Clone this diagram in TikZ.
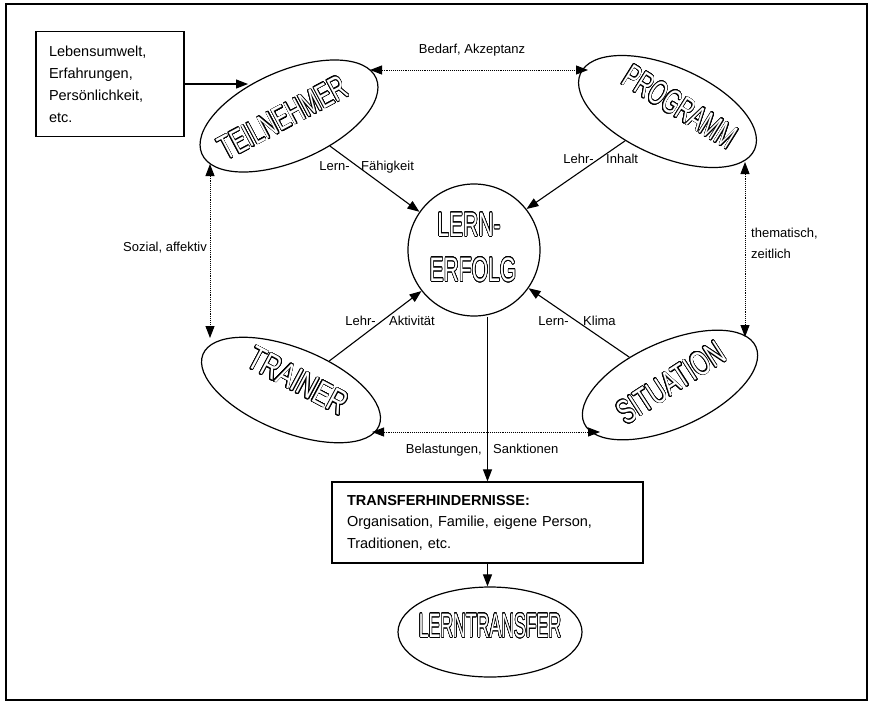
\documentclass[tikz,border=0pt]{standalone}
\usepackage{fontspec}
\setmainfont{Liberation Sans}
\usepackage{graphicx}
\usepackage[copies]{contour}
\contourlength{0.8pt}
\contournumber{24}
\usetikzlibrary{shapes.geometric,arrows.meta}
\newcommand{\outl}[2]{\scalebox{#1}[1]{\textcolor{white}{\contour{black}{#2}}}}
\begin{document}
\begin{tikzpicture}[x=1pt,y=-1pt,
  ell/.style={draw,ellipse,line width=1.2pt,inner sep=0pt},
  otxt/.style={font=\fontsize{34}{40}\selectfont,inner sep=0pt},
  lbl/.style={font=\fontsize{13}{15}\selectfont,inner sep=0pt},
  boxn/.style={draw,line width=1.2pt,inner sep=0pt,align=left},
  arr/.style={line width=1.1pt,-{Triangle[length=12pt,width=9pt]}},
  darr/.style={line width=0.9pt,densely dotted,{Triangle[length=12pt,width=9pt]}-{Triangle[length=12pt,width=9pt]}}
]
\useasboundingbox (0,0) rectangle (869,702);
\draw[line width=1.5pt] (6,4) rectangle (867,700);

% boxes
\node[boxn,minimum width=148pt,minimum height=105pt,text width=122pt,
      font=\fontsize{14.5}{22}\selectfont] (lebens) at (110,84)
  {Lebensumwelt,\\Erfahrungen,\\Persönlichkeit,\\etc.};
\node[boxn,minimum width=311pt,minimum height=81pt,text width=281pt,
      font=\fontsize{14.5}{21.5}\selectfont] (tbox) at (487.5,522.5)
  {\textbf{TRANSFERHINDERNISSE:}\\Organisation, Familie, eigene Person,\\Traditionen, etc.};

% ellipses and circle
\node[ell,minimum width=190pt,minimum height=90pt,rotate=23.5] (teil) at (289,116) {};
\node[ell,minimum width=190pt,minimum height=90pt,rotate=-23.5] (prog) at (667.5,111.5) {};
\node[ell,minimum width=190pt,minimum height=84pt,rotate=-22] (trainer) at (291,390) {};
\node[ell,minimum width=188pt,minimum height=86pt,rotate=24] (sit) at (670,385) {};
\node[ell,minimum width=184pt,minimum height=90pt] (lt) at (490,632) {};
\node[draw,circle,line width=1.2pt,minimum size=132pt,inner sep=0pt] (erfolg) at (474,250) {};

% outlined titles
\node[otxt,rotate=28] (teilT) at (283,118) {\outl{0.64}{TEILNEHMER}};
\node[otxt,rotate=-32] (progT) at (680,107) {\outl{0.62}{PROGRAMM}};
\node[otxt,rotate=-28] (trainerT) at (298,381) {\outl{0.72}{TRAINER}};
\node[otxt,rotate=33] (sitT) at (671,383) {\outl{0.68}{SITUATION}};
\node[otxt] (erfolgT1) at (469,225) {\outl{0.62}{LERN-}};
\node[otxt] (erfolgT2) at (473,270) {\outl{0.62}{ERFOLG}};
\node[otxt] (ltT) at (490,626) {\outl{0.52}{LERNTRANSFER}};

% free ends
\coordinate (tA) at (248,84);
\coordinate (b1) at (370,70);
\coordinate (b2) at (588,70);
\coordinate (s1) at (210,164);
\coordinate (s2) at (210,338);
\coordinate (t1) at (745,162);
\coordinate (t2) at (745,337);
\coordinate (l1) at (372,432);
\coordinate (l2) at (600,432);

% connectors
\draw[arr] (lebens.east) -- (tA);
\draw[darr] (b1) -- (b2);
\draw[darr] (s1) -- (s2);
\draw[darr] (t1) -- (t2);
\draw[darr] (l1) -- (l2);
\draw[arr] (teil) -- (erfolg.145);
\draw[arr] (prog) -- (erfolg.38);
\draw[arr] (trainer) -- (erfolg.218);
\draw[arr] (sit) -- (erfolg.-35);
\draw[arr] (erfolg.south -| tbox.north) -- (tbox.north);
\draw[arr] (tbox.south) -- (tbox.south |- lt.north);

% labels
\node[lbl,anchor=base] (lbBedarf) at (472,53) {Bedarf, Akzeptanz};
\node[lbl,anchor=base east] (lbLern1) at (350,170) {Lern-};
\node[lbl,anchor=base west] (lbFaeh) at (361,170) {Fähigkeit};
\node[lbl,anchor=base east] (lbSozial) at (207,251) {Sozial, affektiv};
\node[lbl,anchor=base east] (lbLehr1) at (594,163) {Lehr-};
\node[lbl,anchor=base west] (lbInhalt) at (606,163) {Inhalt};
\node[lbl,anchor=north west,align=left,font=\fontsize{13}{21}\selectfont] (lbThem) at (751,228) {thematisch,\\zeitlich};
\node[lbl,anchor=base east] (lbLehr2) at (376,325) {Lehr-};
\node[lbl,anchor=base west] (lbAkt) at (389,325) {Aktivität};
\node[lbl,anchor=base east] (lbLern2) at (569,325) {Lern-};
\node[lbl,anchor=base west] (lbKlima) at (583,325) {Klima};
\node[lbl,anchor=base east] (lbBel) at (482,453) {Belastungen,};
\node[lbl,anchor=base west] (lbSank) at (493,453) {Sanktionen};
\end{tikzpicture}
\end{document}
